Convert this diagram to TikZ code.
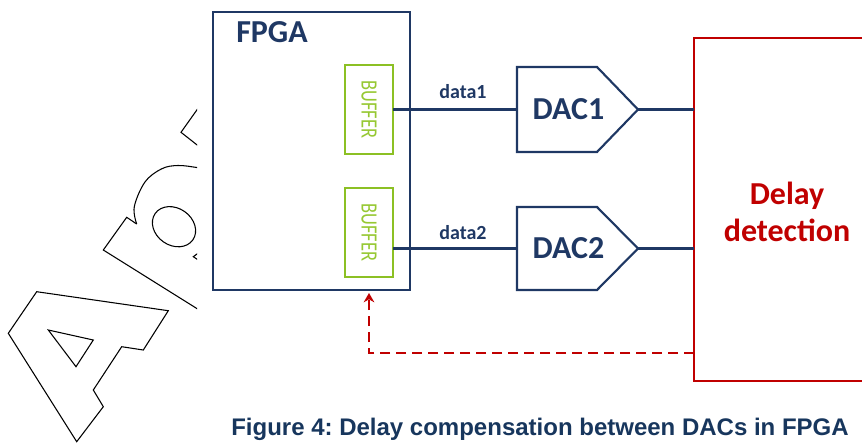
\documentclass[tikz,border=0pt]{standalone}
\usepackage{fontspec}
\setmainfont{Carlito}
\newfontfamily\capfont{Liberation Sans}
\usetikzlibrary{fit,calc,arrows.meta}
\definecolor{navy}{RGB}{31,56,100}
\definecolor{capnavy}{RGB}{23,54,93}
\definecolor{detred}{RGB}{192,0,0}
\definecolor{bufgreen}{RGB}{140,192,36}
\definecolor{buftext}{RGB}{150,200,50}
\frenchspacing
\begin{document}
\begin{tikzpicture}[x=0.75pt,y=-0.75pt,
  navyline/.style={draw=navy,line width=1.6pt},
  boxfit/.style={inner sep=0pt,outer sep=0pt},
  fpgabox/.style={boxfit,navyline,fill=white},
  bufbox/.style={boxfit,draw=bufgreen,line width=1.6pt},
  detbox/.style={boxfit,draw=detred,line width=1.6pt},
  buflabel/.style={text=buftext,rotate=-90,inner sep=0pt,
    font=\fontsize{17.5}{20}\selectfont},
  bigbold/.style={text=navy,inner sep=0pt,
    font=\fontsize{24}{29}\selectfont\bfseries},
  datalabel/.style={text=navy,inner sep=0pt,
    font=\fontsize{15}{18}\selectfont\bfseries},
  reddash/.style={draw=detred,line width=1.6pt,dash pattern=on 7.5pt off 4.5pt},
  wmark/.style={draw=black,line width=0.8pt,line join=miter}]
\useasboundingbox (0,0) rectangle (862,443);
\clip (0,0) rectangle (862,443);

% outlined lettering in the background, cut off left of the FPGA block
\begin{scope}
  \clip (0,0) rectangle (197,443);
  \draw[wmark] (36.7,291.7) -- (168.3,310.7) -- (143.3,350) -- (121.7,346.7)
    -- (93.3,390) -- (103.3,406.7) -- (76.7,441.7) -- (8.3,333.3) -- cycle;
  \draw[wmark] (48.3,330) -- (93.3,340) -- (76,366.7) -- cycle;
  \draw[wmark] (212,318) -- (103.3,250) -- (126.7,217.3) -- (136.7,224);
  \draw[wmark] plot[smooth,tension=0.6] coordinates
    {(136.7,224) (134.3,206.7) (145,182) (161.7,168.8) (178,165.5) (196.7,167.5) (210,170)};
  \draw[wmark] (174,226.7) ellipse [x radius=23,y radius=18.5,rotate=-35];
  \draw[wmark] (199,252.5) -- (193.3,256.7) -- (199,260.5);
  \draw[wmark] (205,98.5) -- (181,132.3) -- (205,151.2);
\end{scope}

% FPGA block with its two output buffers
\node[fpgabox,fit={(213,12) (410,290)}] (fpga) {};
\node[bigbold,anchor=base west] (fpgalabel) at (236,42) {FPGA};
\node[bufbox,fit={(345,65) (393,154)}] (bufA) {};
\node[bufbox,fit={(345,188) (393,277)}] (bufB) {};
\node[buflabel] (bufAlabel) at (bufA.center) {\scalebox{0.79}[1]{BUFFER}};
\node[buflabel] (bufBlabel) at (bufB.center) {\scalebox{0.79}[1]{BUFFER}};

% converters
\node[boxfit,fit={(517,67) (638,152)}] (dacA) {};
\node[boxfit,fit={(517,207) (638,290)}] (dacB) {};
\foreach \d in {dacA,dacB}{
  \draw[navyline,line join=miter] (\d.north west) -- ($(\d.north east)+(-41,0)$)
    -- (\d.east) -- ($(\d.south east)+(-41,0)$) -- (\d.south west) -- cycle;
}
\node[bigbold] (dacAlabel) at ($(dacA.center)+(-9,0)$) {DAC1};
\node[bigbold] (dacBlabel) at ($(dacB.center)+(-9,0)$) {DAC2};

% delay detection block (continues past the right border)
\node[detbox,fit={(694,38) (880,381)}] (det) {};
\node[text=detred,align=center,inner sep=0pt,
  font=\fontsize{24}{27.75}\selectfont\bfseries] (detlabel) at (787,212)
  {Delay\\detection};

% data paths
\draw[navyline] (bufA.east |- dacA.west) -- (dacA.west);
\draw[navyline] (bufB.east |- dacB.west) -- (dacB.west);
\node[datalabel,anchor=base] (dataA) at (463,98) {data1};
\node[datalabel,anchor=base] (dataB) at (463,239) {data2};
\draw[navyline] (dacA.east) -- (det.west |- dacA.east);
\draw[navyline] (dacB.east) -- (det.west |- dacB.east);

% feedback from the detector to the FPGA
\coordinate (fbstart) at (694,353);
\draw[reddash,-{Stealth[length=7pt,width=8pt]}]
  (fbstart) -| ($(bufB.center |- fpga.south)+(0,3)$);

% caption
\node[text=capnavy,anchor=base,inner sep=0pt,
  font=\capfont\fontsize{18}{21}\selectfont\bfseries] (caption) at (540,435)
  {Figure 4: Delay compensation between DACs in FPGA};
\end{tikzpicture}
\end{document}
